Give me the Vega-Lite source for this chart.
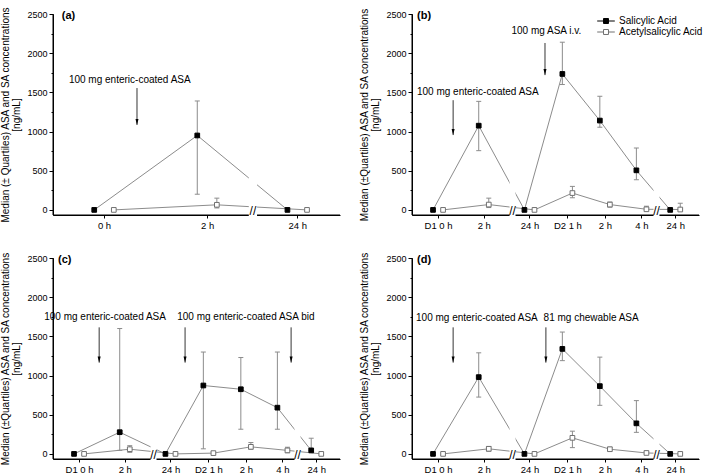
{
"$schema": "https://vega.github.io/schema/vega-lite/v6.json",
"padding": {"left": 0, "top": 6, "right": 0, "bottom": 0},
"config": {
  "view": {"stroke": null},
  "font": "Liberation Sans",
  "axis": {"labelFont": "Liberation Sans", "titleFont": "Liberation Sans", "grid": false, "tickColor": "black", "domainColor": "black", "labelColor": "black", "titleColor": "black", "titleFontWeight": "normal"}
},
"datasets": {
  "pts": [
    {"p":"a","s":"Salicylic Acid","t":0,"y":0,"lo":null,"hi":null},
    {"p":"a","s":"Salicylic Acid","t":2,"y":950,"lo":200,"hi":1390},
    {"p":"a","s":"Salicylic Acid","t":3.75,"y":0,"lo":null,"hi":null},
    {"p":"a","s":"Acetylsalicylic Acid","t":0,"y":0,"lo":null,"hi":null},
    {"p":"a","s":"Acetylsalicylic Acid","t":2,"y":65,"lo":25,"hi":150},
    {"p":"a","s":"Acetylsalicylic Acid","t":3.75,"y":0,"lo":null,"hi":null},

    {"p":"b","s":"Salicylic Acid","t":0,"y":0,"lo":null,"hi":null},
    {"p":"b","s":"Salicylic Acid","t":1,"y":1075,"lo":756,"hi":1385},
    {"p":"b","s":"Salicylic Acid","t":2,"y":0,"lo":null,"hi":null},
    {"p":"b","s":"Salicylic Acid","t":2.83,"y":1735,"lo":1600,"hi":2140},
    {"p":"b","s":"Salicylic Acid","t":3.65,"y":1140,"lo":1055,"hi":1450},
    {"p":"b","s":"Salicylic Acid","t":4.45,"y":505,"lo":385,"hi":790},
    {"p":"b","s":"Salicylic Acid","t":5.19,"y":0,"lo":null,"hi":null},
    {"p":"b","s":"Acetylsalicylic Acid","t":0,"y":0,"lo":null,"hi":null},
    {"p":"b","s":"Acetylsalicylic Acid","t":1,"y":68,"lo":30,"hi":150},
    {"p":"b","s":"Acetylsalicylic Acid","t":2,"y":0,"lo":null,"hi":null},
    {"p":"b","s":"Acetylsalicylic Acid","t":2.83,"y":215,"lo":155,"hi":300},
    {"p":"b","s":"Acetylsalicylic Acid","t":3.65,"y":68,"lo":35,"hi":100},
    {"p":"b","s":"Acetylsalicylic Acid","t":4.45,"y":8,"lo":0,"hi":47},
    {"p":"b","s":"Acetylsalicylic Acid","t":5.19,"y":5,"lo":0,"hi":85},

    {"p":"c","s":"Salicylic Acid","t":0,"y":0,"lo":null,"hi":null},
    {"p":"c","s":"Salicylic Acid","t":1,"y":277,"lo":45,"hi":1600},
    {"p":"c","s":"Salicylic Acid","t":2,"y":0,"lo":null,"hi":null},
    {"p":"c","s":"Salicylic Acid","t":2.83,"y":873,"lo":65,"hi":1300},
    {"p":"c","s":"Salicylic Acid","t":3.65,"y":825,"lo":315,"hi":1230},
    {"p":"c","s":"Salicylic Acid","t":4.45,"y":590,"lo":315,"hi":1300},
    {"p":"c","s":"Salicylic Acid","t":5.19,"y":45,"lo":45,"hi":200},
    {"p":"c","s":"Acetylsalicylic Acid","t":0,"y":0,"lo":null,"hi":null},
    {"p":"c","s":"Acetylsalicylic Acid","t":1,"y":60,"lo":20,"hi":105},
    {"p":"c","s":"Acetylsalicylic Acid","t":2,"y":0,"lo":null,"hi":null},
    {"p":"c","s":"Acetylsalicylic Acid","t":2.83,"y":10,"lo":0,"hi":30},
    {"p":"c","s":"Acetylsalicylic Acid","t":3.65,"y":90,"lo":60,"hi":145},
    {"p":"c","s":"Acetylsalicylic Acid","t":4.45,"y":45,"lo":15,"hi":85},
    {"p":"c","s":"Acetylsalicylic Acid","t":5.19,"y":0,"lo":null,"hi":null},

    {"p":"d","s":"Salicylic Acid","t":0,"y":0,"lo":null,"hi":null},
    {"p":"d","s":"Salicylic Acid","t":1,"y":980,"lo":725,"hi":1290},
    {"p":"d","s":"Salicylic Acid","t":2,"y":0,"lo":null,"hi":null},
    {"p":"d","s":"Salicylic Acid","t":2.83,"y":1340,"lo":1190,"hi":1555},
    {"p":"d","s":"Salicylic Acid","t":3.65,"y":865,"lo":620,"hi":1235},
    {"p":"d","s":"Salicylic Acid","t":4.45,"y":390,"lo":275,"hi":680},
    {"p":"d","s":"Salicylic Acid","t":5.19,"y":0,"lo":null,"hi":null},
    {"p":"d","s":"Acetylsalicylic Acid","t":0,"y":0,"lo":null,"hi":null},
    {"p":"d","s":"Acetylsalicylic Acid","t":1,"y":65,"lo":35,"hi":95},
    {"p":"d","s":"Acetylsalicylic Acid","t":2,"y":0,"lo":null,"hi":null},
    {"p":"d","s":"Acetylsalicylic Acid","t":2.83,"y":205,"lo":80,"hi":290},
    {"p":"d","s":"Acetylsalicylic Acid","t":3.65,"y":60,"lo":40,"hi":85},
    {"p":"d","s":"Acetylsalicylic Acid","t":4.45,"y":12,"lo":0,"hi":30},
    {"p":"d","s":"Acetylsalicylic Acid","t":5.19,"y":0,"lo":null,"hi":null}
  ],
  "brk": [
    {"p":"a","xc":2.89,"x1":2.81,"x2":2.97},
    {"p":"b","xc":1.63,"x1":1.565,"x2":1.695},
    {"p":"b","xc":4.78,"x1":4.715,"x2":4.845},
    {"p":"c","xc":1.63,"x1":1.565,"x2":1.695},
    {"p":"c","xc":4.78,"x1":4.715,"x2":4.845},
    {"p":"d","xc":1.63,"x1":1.565,"x2":1.695},
    {"p":"d","xc":4.78,"x1":4.715,"x2":4.845}
  ],
  "frame": [
    {"p":"a","xmin":-0.99,"xmax":4.58,"ymin":-65,"ymax":2500},
    {"p":"b","xmin":-0.57,"xmax":5.71,"ymin":-65,"ymax":2500},
    {"p":"c","xmin":-0.57,"xmax":5.71,"ymin":-65,"ymax":2500},
    {"p":"d","xmin":-0.57,"xmax":5.71,"ymin":-65,"ymax":2500}
  ],
  "ann": [
    {"p":"a","k":"txt","x":0.5,"y":1660,"txt":"100 mg enteric-coated ASA"},
    {"p":"a","k":"arr","x":0.64,"y":1555,"y2":1085},
    {"p":"a","k":"lab","x":-0.82,"y":2470,"txt":"(a)"},
    {"p":"b","k":"txt","x":2.37,"y":2280,"txt":"100 mg ASA i.v."},
    {"p":"b","k":"arr","x":2.34,"y":2130,"y2":1720},
    {"p":"b","k":"txt","x":0.87,"y":1505,"txt":"100 mg enteric-coated ASA"},
    {"p":"b","k":"arr","x":0.33,"y":1400,"y2":955},
    {"p":"b","k":"lab","x":-0.46,"y":2470,"txt":"(b)"},
    {"p":"c","k":"txt","x":0.57,"y":1745,"txt":"100 mg enteric-coated ASA"},
    {"p":"c","k":"txt","x":3.65,"y":1745,"txt":"100 mg enteric-coated ASA bid"},
    {"p":"c","k":"arr","x":0.44,"y":1615,"y2":1165},
    {"p":"c","k":"arr","x":2.32,"y":1615,"y2":1165},
    {"p":"c","k":"arr","x":4.64,"y":1615,"y2":1165},
    {"p":"c","k":"lab","x":-0.46,"y":2470,"txt":"(c)"},
    {"p":"d","k":"txt","x":0.85,"y":1730,"txt":"100 mg enteric-coated ASA"},
    {"p":"d","k":"txt","x":3.35,"y":1730,"txt":"81 mg chewable ASA"},
    {"p":"d","k":"arr","x":0.33,"y":1615,"y2":1165},
    {"p":"d","k":"arr","x":2.36,"y":1615,"y2":1165},
    {"p":"d","k":"lab","x":-0.46,"y":2470,"txt":"(d)"}
  ]
},
"columns": 2,
"bounds": "flush",
"spacing": {"row": 43, "column": 72},
"resolve": {"scale": {"fill": "independent", "stroke": "independent"}, "legend": {"fill": "independent", "stroke": "independent"}},
"concat": [
 {"width":287,"height":201,"resolve":{"axis":{"x":"independent","y":"independent"}},"layer":[
  {"data":{"name":"pts"},"transform":[{"filter":"datum.p=='a'"},{"calculate":"datum.t + (datum.s=='Salicylic Acid' ? -1 : 1) * 0.19","as":"xp"}],
   "mark":{"type":"line","color":"#8c8c8c","strokeWidth":1},
   "encoding":{
     "x":{"field":"xp","type":"quantitative","scale":{"domain":[-0.99,4.58],"nice":false,"zero":false},
          "axis":{"title":null,"domain":true,"ticks":true,"values":[0,2,3.75],"labelExpr":"datum.value < 1 ? '0 h' : datum.value < 3 ? '2 h' : '24 h'","tickSize":3,"labelFontSize":9.5,"labelPadding":2}},
     "y":{"field":"y","type":"quantitative","scale":{"domain":[-65,2500],"nice":false,"zero":false},
          "axis":{"domain":true,"ticks":true,"values":[0,250,500,750,1000,1250,1500,1750,2000,2250,2500],"format":"d","labelExpr":"datum.value % 500 === 0 ? datum.label : ''","tickSize":{"condition":{"test":"datum.value % 500 === 0","value":4},"value":2},"labelFontSize":9,"labelPadding":2,"title":["Median (± Quartiles) ASA and SA concentrations","[ng/mL]"],"titleFontSize":10,"titleLineHeight":11,"titlePadding":5}},
     "detail":{"field":"s"}}},
  {"data":{"name":"frame"},"transform":[{"filter":"datum.p=='a'"}],"mark":{"type":"rule","color":"black","strokeWidth":1},
   "encoding":{"x":{"field":"xmin","type":"quantitative","axis":null},"x2":{"field":"xmax"},"y":{"field":"ymin","type":"quantitative","axis":null}}},
  {"data":{"name":"frame"},"transform":[{"filter":"datum.p=='a'"}],"mark":{"type":"rule","color":"black","strokeWidth":1},
   "encoding":{"x":{"field":"xmin","type":"quantitative","axis":null},"y":{"field":"ymin","type":"quantitative","axis":null},"y2":{"field":"ymax"}}},
  {"data":{"name":"brk"},"transform":[{"filter":"datum.p=='a'"}],"mark":{"type":"rect","color":"white"},
   "encoding":{"x":{"field":"x1","type":"quantitative","axis":null},"x2":{"field":"x2"},"y":{"datum":-120,"axis":null},"y2":{"datum":2000}}},
  {"data":{"name":"brk"},"transform":[{"filter":"datum.p=='a'"}],"mark":{"type":"text","text":"//","font":"Liberation Sans","fontSize":12,"baseline":"middle","align":"center","color":"black"},
   "encoding":{"x":{"field":"xc","type":"quantitative","axis":null},"y":{"datum":-20,"axis":null}}},
  {"data":{"name":"pts"},"transform":[{"filter":"datum.p=='a' && isValid(datum.hi)"},{"calculate":"datum.t + (datum.s=='Salicylic Acid' ? -1 : 1) * 0.19","as":"xp"}],
   "mark":{"type":"rule","color":"#8c8c8c","strokeWidth":1},
   "encoding":{"x":{"field":"xp","type":"quantitative","axis":null},"y":{"field":"lo","type":"quantitative","axis":null},"y2":{"field":"hi"}}},
  {"data":{"name":"pts"},"transform":[{"filter":"datum.p=='a' && isValid(datum.hi)"},{"calculate":"datum.t + (datum.s=='Salicylic Acid' ? -1 : 1) * 0.19","as":"xp"}],
   "mark":{"type":"point","shape":"stroke","size":25,"strokeWidth":1,"color":"#8c8c8c","opacity":1},
   "encoding":{"x":{"field":"xp","type":"quantitative","axis":null},"y":{"field":"hi","type":"quantitative","axis":null}}},
  {"data":{"name":"pts"},"transform":[{"filter":"datum.p=='a' && isValid(datum.hi)"},{"calculate":"datum.t + (datum.s=='Salicylic Acid' ? -1 : 1) * 0.19","as":"xp"}],
   "mark":{"type":"point","shape":"stroke","size":25,"strokeWidth":1,"color":"#8c8c8c","opacity":1},
   "encoding":{"x":{"field":"xp","type":"quantitative","axis":null},"y":{"field":"lo","type":"quantitative","axis":null}}},
  {"data":{"name":"pts"},"transform":[{"filter":"datum.p=='a'"},{"calculate":"datum.t + (datum.s=='Salicylic Acid' ? -1 : 1) * 0.19","as":"xp"}],
   "mark":{"type":"point","shape":"square","size":22,"strokeWidth":1,"opacity":1,"filled":true},
   "encoding":{"x":{"field":"xp","type":"quantitative","axis":null},"y":{"field":"y","type":"quantitative","axis":null},
     "fill":{"field":"s","type":"nominal","scale":{"domain":["Salicylic Acid","Acetylsalicylic Acid"],"range":["black","white"]},"legend":null},
     "stroke":{"field":"s","type":"nominal","scale":{"domain":["Salicylic Acid","Acetylsalicylic Acid"],"range":["black","#707070"]},"legend":null}}},
  {"data":{"name":"ann"},"transform":[{"filter":"datum.p=='a' && datum.k=='txt'"}],"mark":{"type":"text","font":"Liberation Sans","fontSize":10,"align":"center","baseline":"middle","color":"black"},
   "encoding":{"x":{"field":"x","type":"quantitative","axis":null},"y":{"field":"y","type":"quantitative","axis":null},"text":{"field":"txt"}}},
  {"data":{"name":"ann"},"transform":[{"filter":"datum.p=='a' && datum.k=='lab'"}],"mark":{"type":"text","font":"Liberation Sans","fontSize":11,"fontWeight":"bold","align":"left","baseline":"middle","color":"black"},
   "encoding":{"x":{"field":"x","type":"quantitative","axis":null},"y":{"field":"y","type":"quantitative","axis":null},"text":{"field":"txt"}}},
  {"data":{"name":"ann"},"transform":[{"filter":"datum.p=='a' && datum.k=='arr'"}],"mark":{"type":"rule","color":"black","strokeWidth":0.8},
   "encoding":{"x":{"field":"x","type":"quantitative","axis":null},"y":{"field":"y","type":"quantitative","axis":null},"y2":{"field":"y2"}}},
  {"data":{"name":"ann"},"transform":[{"filter":"datum.p=='a' && datum.k=='arr'"}],"mark":{"type":"point","shape":"M-0.5,-1L0.5,-1L0,1Z","size":36,"filled":true,"color":"black","opacity":1,"yOffset":-3},
   "encoding":{"x":{"field":"x","type":"quantitative","axis":null},"y":{"field":"y2","type":"quantitative","axis":null}}}
 ]},

 {"width":287,"height":201,"resolve":{"axis":{"x":"independent","y":"independent"}},"layer":[
  {"data":{"name":"pts"},"transform":[{"filter":"datum.p=='b'"},{"calculate":"datum.t + (datum.s=='Salicylic Acid' ? -1 : 1) * 0.11","as":"xp"}],
   "mark":{"type":"line","color":"#8c8c8c","strokeWidth":1},
   "encoding":{
     "x":{"field":"xp","type":"quantitative","scale":{"domain":[-0.57,5.71],"nice":false,"zero":false},
          "axis":{"title":null,"domain":true,"ticks":true,"values":[0,1,2,2.83,3.65,4.45,5.19],"labelExpr":"datum.value < 0.5 ? 'D1 0 h' : datum.value < 1.5 ? '2 h' : datum.value < 2.4 ? '24 h' : datum.value < 3.2 ? 'D2 1 h' : datum.value < 4 ? '2 h' : datum.value < 4.8 ? '4 h' : '24 h'","tickSize":3,"labelFontSize":9.5,"labelPadding":2}},
     "y":{"field":"y","type":"quantitative","scale":{"domain":[-65,2500],"nice":false,"zero":false},
          "axis":{"domain":true,"ticks":true,"values":[0,250,500,750,1000,1250,1500,1750,2000,2250,2500],"format":"d","labelExpr":"datum.value % 500 === 0 ? datum.label : ''","tickSize":{"condition":{"test":"datum.value % 500 === 0","value":4},"value":2},"labelFontSize":9,"labelPadding":2,"title":["Median (±Quartiles) ASA and SA concentrations","[ng/mL]"],"titleFontSize":10,"titleLineHeight":11,"titlePadding":5}},
     "detail":{"field":"s"}}},
  {"data":{"name":"frame"},"transform":[{"filter":"datum.p=='b'"}],"mark":{"type":"rule","color":"black","strokeWidth":1},
   "encoding":{"x":{"field":"xmin","type":"quantitative","axis":null},"x2":{"field":"xmax"},"y":{"field":"ymin","type":"quantitative","axis":null}}},
  {"data":{"name":"frame"},"transform":[{"filter":"datum.p=='b'"}],"mark":{"type":"rule","color":"black","strokeWidth":1},
   "encoding":{"x":{"field":"xmin","type":"quantitative","axis":null},"y":{"field":"ymin","type":"quantitative","axis":null},"y2":{"field":"ymax"}}},
  {"data":{"name":"brk"},"transform":[{"filter":"datum.p=='b'"}],"mark":{"type":"rect","color":"white"},
   "encoding":{"x":{"field":"x1","type":"quantitative","axis":null},"x2":{"field":"x2"},"y":{"datum":-120,"axis":null},"y2":{"datum":2000}}},
  {"data":{"name":"brk"},"transform":[{"filter":"datum.p=='b'"}],"mark":{"type":"text","text":"//","font":"Liberation Sans","fontSize":12,"baseline":"middle","align":"center","color":"black"},
   "encoding":{"x":{"field":"xc","type":"quantitative","axis":null},"y":{"datum":-20,"axis":null}}},
  {"data":{"name":"pts"},"transform":[{"filter":"datum.p=='b' && isValid(datum.hi)"},{"calculate":"datum.t + (datum.s=='Salicylic Acid' ? -1 : 1) * 0.11","as":"xp"}],
   "mark":{"type":"rule","color":"#8c8c8c","strokeWidth":1},
   "encoding":{"x":{"field":"xp","type":"quantitative","axis":null},"y":{"field":"lo","type":"quantitative","axis":null},"y2":{"field":"hi"}}},
  {"data":{"name":"pts"},"transform":[{"filter":"datum.p=='b' && isValid(datum.hi)"},{"calculate":"datum.t + (datum.s=='Salicylic Acid' ? -1 : 1) * 0.11","as":"xp"}],
   "mark":{"type":"point","shape":"stroke","size":25,"strokeWidth":1,"color":"#8c8c8c","opacity":1},
   "encoding":{"x":{"field":"xp","type":"quantitative","axis":null},"y":{"field":"hi","type":"quantitative","axis":null}}},
  {"data":{"name":"pts"},"transform":[{"filter":"datum.p=='b' && isValid(datum.hi)"},{"calculate":"datum.t + (datum.s=='Salicylic Acid' ? -1 : 1) * 0.11","as":"xp"}],
   "mark":{"type":"point","shape":"stroke","size":25,"strokeWidth":1,"color":"#8c8c8c","opacity":1},
   "encoding":{"x":{"field":"xp","type":"quantitative","axis":null},"y":{"field":"lo","type":"quantitative","axis":null}}},
  {"data":{"name":"pts"},"transform":[{"filter":"datum.p=='b'"},{"calculate":"datum.t + (datum.s=='Salicylic Acid' ? -1 : 1) * 0.11","as":"xp"}],
   "mark":{"type":"point","shape":"square","size":22,"strokeWidth":1,"opacity":1,"filled":true},
   "encoding":{"x":{"field":"xp","type":"quantitative","axis":null},"y":{"field":"y","type":"quantitative","axis":null},
     "fill":{"field":"s","type":"nominal","scale":{"domain":["Salicylic Acid","Acetylsalicylic Acid"],"range":["black","white"]},
       "legend":{"title":null,"orient":"none","legendX":188,"legendY":1,"symbolType":"M-1.6,0H-0.45M0.45,0H1.6M-0.45,-0.45H0.45V0.45H-0.45Z","symbolSize":121,"symbolStrokeColor":"#666666","symbolStrokeWidth":1,"labelFont":"Liberation Sans","labelFontSize":10,"labelColor":"black","rowPadding":0,"labelOffset":7}},
     "stroke":{"field":"s","type":"nominal","scale":{"domain":["Salicylic Acid","Acetylsalicylic Acid"],"range":["black","#707070"]},"legend":null}}},
  {"data":{"name":"ann"},"transform":[{"filter":"datum.p=='b' && datum.k=='txt'"}],"mark":{"type":"text","font":"Liberation Sans","fontSize":10,"align":"center","baseline":"middle","color":"black"},
   "encoding":{"x":{"field":"x","type":"quantitative","axis":null},"y":{"field":"y","type":"quantitative","axis":null},"text":{"field":"txt"}}},
  {"data":{"name":"ann"},"transform":[{"filter":"datum.p=='b' && datum.k=='lab'"}],"mark":{"type":"text","font":"Liberation Sans","fontSize":11,"fontWeight":"bold","align":"left","baseline":"middle","color":"black"},
   "encoding":{"x":{"field":"x","type":"quantitative","axis":null},"y":{"field":"y","type":"quantitative","axis":null},"text":{"field":"txt"}}},
  {"data":{"name":"ann"},"transform":[{"filter":"datum.p=='b' && datum.k=='arr'"}],"mark":{"type":"rule","color":"black","strokeWidth":0.8},
   "encoding":{"x":{"field":"x","type":"quantitative","axis":null},"y":{"field":"y","type":"quantitative","axis":null},"y2":{"field":"y2"}}},
  {"data":{"name":"ann"},"transform":[{"filter":"datum.p=='b' && datum.k=='arr'"}],"mark":{"type":"point","shape":"M-0.5,-1L0.5,-1L0,1Z","size":36,"filled":true,"color":"black","opacity":1,"yOffset":-3},
   "encoding":{"x":{"field":"x","type":"quantitative","axis":null},"y":{"field":"y2","type":"quantitative","axis":null}}}
 ]},

 {"width":287,"height":201,"resolve":{"axis":{"x":"independent","y":"independent"}},"layer":[
  {"data":{"name":"pts"},"transform":[{"filter":"datum.p=='c'"},{"calculate":"datum.t + (datum.s=='Salicylic Acid' ? -1 : 1) * 0.11","as":"xp"}],
   "mark":{"type":"line","color":"#8c8c8c","strokeWidth":1},
   "encoding":{
     "x":{"field":"xp","type":"quantitative","scale":{"domain":[-0.57,5.71],"nice":false,"zero":false},
          "axis":{"title":null,"domain":true,"ticks":true,"values":[0,1,2,2.83,3.65,4.45,5.19],"labelExpr":"datum.value < 0.5 ? 'D1 0 h' : datum.value < 1.5 ? '2 h' : datum.value < 2.4 ? '24 h' : datum.value < 3.2 ? 'D2 1 h' : datum.value < 4 ? '2 h' : datum.value < 4.8 ? '4 h' : '24 h'","tickSize":3,"labelFontSize":9.5,"labelPadding":2}},
     "y":{"field":"y","type":"quantitative","scale":{"domain":[-65,2500],"nice":false,"zero":false},
          "axis":{"domain":true,"ticks":true,"values":[0,250,500,750,1000,1250,1500,1750,2000,2250,2500],"format":"d","labelExpr":"datum.value % 500 === 0 ? datum.label : ''","tickSize":{"condition":{"test":"datum.value % 500 === 0","value":4},"value":2},"labelFontSize":9,"labelPadding":2,"title":["Median (±Quartiles) ASA and SA concentrations","[ng/mL]"],"titleFontSize":10,"titleLineHeight":11,"titlePadding":5}},
     "detail":{"field":"s"}}},
  {"data":{"name":"frame"},"transform":[{"filter":"datum.p=='c'"}],"mark":{"type":"rule","color":"black","strokeWidth":1},
   "encoding":{"x":{"field":"xmin","type":"quantitative","axis":null},"x2":{"field":"xmax"},"y":{"field":"ymin","type":"quantitative","axis":null}}},
  {"data":{"name":"frame"},"transform":[{"filter":"datum.p=='c'"}],"mark":{"type":"rule","color":"black","strokeWidth":1},
   "encoding":{"x":{"field":"xmin","type":"quantitative","axis":null},"y":{"field":"ymin","type":"quantitative","axis":null},"y2":{"field":"ymax"}}},
  {"data":{"name":"brk"},"transform":[{"filter":"datum.p=='c'"}],"mark":{"type":"rect","color":"white"},
   "encoding":{"x":{"field":"x1","type":"quantitative","axis":null},"x2":{"field":"x2"},"y":{"datum":-120,"axis":null},"y2":{"datum":2000}}},
  {"data":{"name":"brk"},"transform":[{"filter":"datum.p=='c'"}],"mark":{"type":"text","text":"//","font":"Liberation Sans","fontSize":12,"baseline":"middle","align":"center","color":"black"},
   "encoding":{"x":{"field":"xc","type":"quantitative","axis":null},"y":{"datum":-20,"axis":null}}},
  {"data":{"name":"pts"},"transform":[{"filter":"datum.p=='c' && isValid(datum.hi)"},{"calculate":"datum.t + (datum.s=='Salicylic Acid' ? -1 : 1) * 0.11","as":"xp"}],
   "mark":{"type":"rule","color":"#8c8c8c","strokeWidth":1},
   "encoding":{"x":{"field":"xp","type":"quantitative","axis":null},"y":{"field":"lo","type":"quantitative","axis":null},"y2":{"field":"hi"}}},
  {"data":{"name":"pts"},"transform":[{"filter":"datum.p=='c' && isValid(datum.hi)"},{"calculate":"datum.t + (datum.s=='Salicylic Acid' ? -1 : 1) * 0.11","as":"xp"}],
   "mark":{"type":"point","shape":"stroke","size":25,"strokeWidth":1,"color":"#8c8c8c","opacity":1},
   "encoding":{"x":{"field":"xp","type":"quantitative","axis":null},"y":{"field":"hi","type":"quantitative","axis":null}}},
  {"data":{"name":"pts"},"transform":[{"filter":"datum.p=='c' && isValid(datum.hi)"},{"calculate":"datum.t + (datum.s=='Salicylic Acid' ? -1 : 1) * 0.11","as":"xp"}],
   "mark":{"type":"point","shape":"stroke","size":25,"strokeWidth":1,"color":"#8c8c8c","opacity":1},
   "encoding":{"x":{"field":"xp","type":"quantitative","axis":null},"y":{"field":"lo","type":"quantitative","axis":null}}},
  {"data":{"name":"pts"},"transform":[{"filter":"datum.p=='c'"},{"calculate":"datum.t + (datum.s=='Salicylic Acid' ? -1 : 1) * 0.11","as":"xp"}],
   "mark":{"type":"point","shape":"square","size":22,"strokeWidth":1,"opacity":1,"filled":true},
   "encoding":{"x":{"field":"xp","type":"quantitative","axis":null},"y":{"field":"y","type":"quantitative","axis":null},
     "fill":{"field":"s","type":"nominal","scale":{"domain":["Salicylic Acid","Acetylsalicylic Acid"],"range":["black","white"]},"legend":null},
     "stroke":{"field":"s","type":"nominal","scale":{"domain":["Salicylic Acid","Acetylsalicylic Acid"],"range":["black","#707070"]},"legend":null}}},
  {"data":{"name":"ann"},"transform":[{"filter":"datum.p=='c' && datum.k=='txt'"}],"mark":{"type":"text","font":"Liberation Sans","fontSize":10,"align":"center","baseline":"middle","color":"black"},
   "encoding":{"x":{"field":"x","type":"quantitative","axis":null},"y":{"field":"y","type":"quantitative","axis":null},"text":{"field":"txt"}}},
  {"data":{"name":"ann"},"transform":[{"filter":"datum.p=='c' && datum.k=='lab'"}],"mark":{"type":"text","font":"Liberation Sans","fontSize":11,"fontWeight":"bold","align":"left","baseline":"middle","color":"black"},
   "encoding":{"x":{"field":"x","type":"quantitative","axis":null},"y":{"field":"y","type":"quantitative","axis":null},"text":{"field":"txt"}}},
  {"data":{"name":"ann"},"transform":[{"filter":"datum.p=='c' && datum.k=='arr'"}],"mark":{"type":"rule","color":"black","strokeWidth":0.8},
   "encoding":{"x":{"field":"x","type":"quantitative","axis":null},"y":{"field":"y","type":"quantitative","axis":null},"y2":{"field":"y2"}}},
  {"data":{"name":"ann"},"transform":[{"filter":"datum.p=='c' && datum.k=='arr'"}],"mark":{"type":"point","shape":"M-0.5,-1L0.5,-1L0,1Z","size":36,"filled":true,"color":"black","opacity":1,"yOffset":-3},
   "encoding":{"x":{"field":"x","type":"quantitative","axis":null},"y":{"field":"y2","type":"quantitative","axis":null}}}
 ]},

 {"width":287,"height":201,"resolve":{"axis":{"x":"independent","y":"independent"}},"layer":[
  {"data":{"name":"pts"},"transform":[{"filter":"datum.p=='d'"},{"calculate":"datum.t + (datum.s=='Salicylic Acid' ? -1 : 1) * 0.11","as":"xp"}],
   "mark":{"type":"line","color":"#8c8c8c","strokeWidth":1},
   "encoding":{
     "x":{"field":"xp","type":"quantitative","scale":{"domain":[-0.57,5.71],"nice":false,"zero":false},
          "axis":{"title":null,"domain":true,"ticks":true,"values":[0,1,2,2.83,3.65,4.45,5.19],"labelExpr":"datum.value < 0.5 ? 'D1 0 h' : datum.value < 1.5 ? '2 h' : datum.value < 2.4 ? '24 h' : datum.value < 3.2 ? 'D2 1 h' : datum.value < 4 ? '2 h' : datum.value < 4.8 ? '4 h' : '24 h'","tickSize":3,"labelFontSize":9.5,"labelPadding":2}},
     "y":{"field":"y","type":"quantitative","scale":{"domain":[-65,2500],"nice":false,"zero":false},
          "axis":{"domain":true,"ticks":true,"values":[0,250,500,750,1000,1250,1500,1750,2000,2250,2500],"format":"d","labelExpr":"datum.value % 500 === 0 ? datum.label : ''","tickSize":{"condition":{"test":"datum.value % 500 === 0","value":4},"value":2},"labelFontSize":9,"labelPadding":2,"title":["Median (±Quartiles) ASA and SA concentrations","[ng/mL]"],"titleFontSize":10,"titleLineHeight":11,"titlePadding":5}},
     "detail":{"field":"s"}}},
  {"data":{"name":"frame"},"transform":[{"filter":"datum.p=='d'"}],"mark":{"type":"rule","color":"black","strokeWidth":1},
   "encoding":{"x":{"field":"xmin","type":"quantitative","axis":null},"x2":{"field":"xmax"},"y":{"field":"ymin","type":"quantitative","axis":null}}},
  {"data":{"name":"frame"},"transform":[{"filter":"datum.p=='d'"}],"mark":{"type":"rule","color":"black","strokeWidth":1},
   "encoding":{"x":{"field":"xmin","type":"quantitative","axis":null},"y":{"field":"ymin","type":"quantitative","axis":null},"y2":{"field":"ymax"}}},
  {"data":{"name":"brk"},"transform":[{"filter":"datum.p=='d'"}],"mark":{"type":"rect","color":"white"},
   "encoding":{"x":{"field":"x1","type":"quantitative","axis":null},"x2":{"field":"x2"},"y":{"datum":-120,"axis":null},"y2":{"datum":2000}}},
  {"data":{"name":"brk"},"transform":[{"filter":"datum.p=='d'"}],"mark":{"type":"text","text":"//","font":"Liberation Sans","fontSize":12,"baseline":"middle","align":"center","color":"black"},
   "encoding":{"x":{"field":"xc","type":"quantitative","axis":null},"y":{"datum":-20,"axis":null}}},
  {"data":{"name":"pts"},"transform":[{"filter":"datum.p=='d' && isValid(datum.hi)"},{"calculate":"datum.t + (datum.s=='Salicylic Acid' ? -1 : 1) * 0.11","as":"xp"}],
   "mark":{"type":"rule","color":"#8c8c8c","strokeWidth":1},
   "encoding":{"x":{"field":"xp","type":"quantitative","axis":null},"y":{"field":"lo","type":"quantitative","axis":null},"y2":{"field":"hi"}}},
  {"data":{"name":"pts"},"transform":[{"filter":"datum.p=='d' && isValid(datum.hi)"},{"calculate":"datum.t + (datum.s=='Salicylic Acid' ? -1 : 1) * 0.11","as":"xp"}],
   "mark":{"type":"point","shape":"stroke","size":25,"strokeWidth":1,"color":"#8c8c8c","opacity":1},
   "encoding":{"x":{"field":"xp","type":"quantitative","axis":null},"y":{"field":"hi","type":"quantitative","axis":null}}},
  {"data":{"name":"pts"},"transform":[{"filter":"datum.p=='d' && isValid(datum.hi)"},{"calculate":"datum.t + (datum.s=='Salicylic Acid' ? -1 : 1) * 0.11","as":"xp"}],
   "mark":{"type":"point","shape":"stroke","size":25,"strokeWidth":1,"color":"#8c8c8c","opacity":1},
   "encoding":{"x":{"field":"xp","type":"quantitative","axis":null},"y":{"field":"lo","type":"quantitative","axis":null}}},
  {"data":{"name":"pts"},"transform":[{"filter":"datum.p=='d'"},{"calculate":"datum.t + (datum.s=='Salicylic Acid' ? -1 : 1) * 0.11","as":"xp"}],
   "mark":{"type":"point","shape":"square","size":22,"strokeWidth":1,"opacity":1,"filled":true},
   "encoding":{"x":{"field":"xp","type":"quantitative","axis":null},"y":{"field":"y","type":"quantitative","axis":null},
     "fill":{"field":"s","type":"nominal","scale":{"domain":["Salicylic Acid","Acetylsalicylic Acid"],"range":["black","white"]},"legend":null},
     "stroke":{"field":"s","type":"nominal","scale":{"domain":["Salicylic Acid","Acetylsalicylic Acid"],"range":["black","#707070"]},"legend":null}}},
  {"data":{"name":"ann"},"transform":[{"filter":"datum.p=='d' && datum.k=='txt'"}],"mark":{"type":"text","font":"Liberation Sans","fontSize":10,"align":"center","baseline":"middle","color":"black"},
   "encoding":{"x":{"field":"x","type":"quantitative","axis":null},"y":{"field":"y","type":"quantitative","axis":null},"text":{"field":"txt"}}},
  {"data":{"name":"ann"},"transform":[{"filter":"datum.p=='d' && datum.k=='lab'"}],"mark":{"type":"text","font":"Liberation Sans","fontSize":11,"fontWeight":"bold","align":"left","baseline":"middle","color":"black"},
   "encoding":{"x":{"field":"x","type":"quantitative","axis":null},"y":{"field":"y","type":"quantitative","axis":null},"text":{"field":"txt"}}},
  {"data":{"name":"ann"},"transform":[{"filter":"datum.p=='d' && datum.k=='arr'"}],"mark":{"type":"rule","color":"black","strokeWidth":0.8},
   "encoding":{"x":{"field":"x","type":"quantitative","axis":null},"y":{"field":"y","type":"quantitative","axis":null},"y2":{"field":"y2"}}},
  {"data":{"name":"ann"},"transform":[{"filter":"datum.p=='d' && datum.k=='arr'"}],"mark":{"type":"point","shape":"M-0.5,-1L0.5,-1L0,1Z","size":36,"filled":true,"color":"black","opacity":1,"yOffset":-3},
   "encoding":{"x":{"field":"x","type":"quantitative","axis":null},"y":{"field":"y2","type":"quantitative","axis":null}}}
 ]}
]
}
